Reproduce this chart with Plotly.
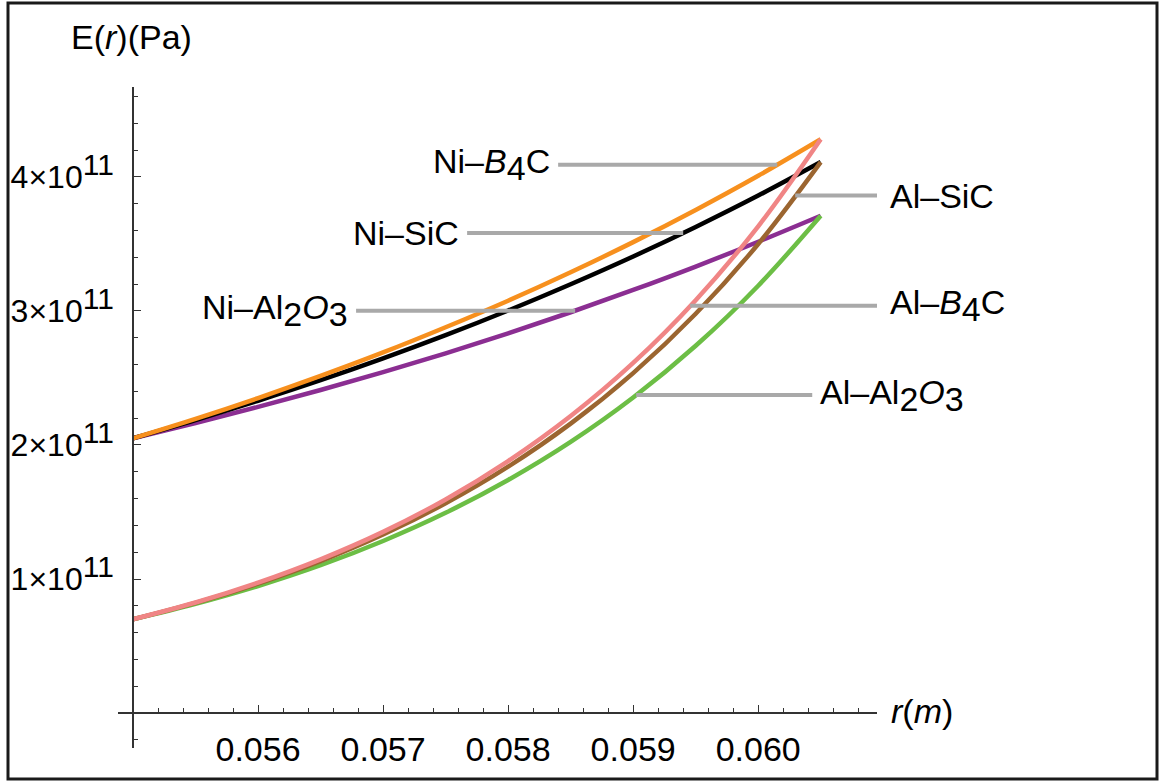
import numpy as np
import plotly.graph_objects as go

# radius r (m)
r = [0.0550, 0.0555, 0.0560, 0.0565, 0.0570, 0.0575,
     0.0580, 0.0585, 0.0590, 0.0595, 0.0600, 0.0605]

# Young's modulus E(r), in units of 1e11 Pa
ni_al2o3 = [2.050, 2.164, 2.284, 2.410, 2.543, 2.684, 2.833, 2.990, 3.156, 3.331, 3.516, 3.710]
ni_sic   = [2.050, 2.186, 2.330, 2.483, 2.646, 2.819, 3.003, 3.199, 3.406, 3.626, 3.860, 4.110]
ni_b4c   = [2.050, 2.195, 2.350, 2.515, 2.690, 2.878, 3.076, 3.288, 3.513, 3.753, 4.008, 4.280]
al_al2o3 = [0.700, 0.815, 0.948, 1.103, 1.284, 1.494, 1.739, 2.023, 2.354, 2.740, 3.188, 3.710]
al_sic   = [0.700, 0.822, 0.966, 1.134, 1.332, 1.565, 1.838, 2.159, 2.536, 2.979, 3.499, 4.110]
al_b4c   = [0.700, 0.825, 0.973, 1.147, 1.352, 1.594, 1.880, 2.216, 2.612, 3.080, 3.631, 4.280]

FS = 34  # main text size


def sub(s):
    return f"<sub><span style='font-size:{FS}px'>{s}</span></sub>"


def sup(s, size):
    return f"<sup><span style='font-size:{size}px'>{s}</span></sup>"


series = [
    ("Ni–Al" + sub("2") + "<i>O</i>" + sub("3"), ni_al2o3, "#8B2E92"),
    ("Ni–SiC", ni_sic, "#000000"),
    ("Ni–<i>B</i>" + sub("4") + "C", ni_b4c, "#F7901E"),
    ("Al–Al" + sub("2") + "<i>O</i>" + sub("3"), al_al2o3, "#6CBE45"),
    ("Al–SiC", al_sic, "#9B6530"),
    ("Al–<i>B</i>" + sub("4") + "C", al_b4c, "#F08585"),
]

# callouts: point on the curve (r), free end of the leader (r), label side
callout_at = [0.058536, 0.059400, 0.060152, 0.059024, 0.060296, 0.059456]
label_end = [0.056784, 0.057672, 0.058400, 0.060432, 0.060992, 0.060992]
label_side = ["left", "left", "left", "right", "right", "right"]

YFS = 32
yticks = [1, 2, 3, 4]
ytick_text = [f"{k}×10" + sup("11", 30) for k in yticks]
xticks = [0.056, 0.057, 0.058, 0.059, 0.060]
xtick_text = ["0.056", "0.057", "0.058", "0.059", "0.060"]

FONT = "Liberation Sans, Arial, Helvetica, sans-serif"
W, H = 1162, 782
L, R, T, B = 118, 285, 87, 34
XR = [0.05488, 0.06095]
YR = [-0.26e11, 4.67e11]
PW, PH = W - L - R, H - T - B


def data_to_paper(x, y):
    return (x - XR[0]) / (XR[1] - XR[0]), (y - YR[0]) / (YR[1] - YR[0])


def px_to_paper(px, py):
    return (px - L) / PW, (H - B - py) / PH


fig = go.Figure()
for name, vals, col in series:
    fig.add_trace(go.Scatter(
        x=r, y=[v * 1e11 for v in vals], mode="lines",
        line=dict(color=col, width=4.5, shape="spline"),
        name=name, showlegend=False, hoverinfo="skip"))

shapes = []
annotations = []
for (name, vals, col), ax, ex, side in zip(series, callout_at, label_end, label_side):
    ay = float(np.interp(ax, r, vals)) * 1e11
    shapes.append(dict(type="line", xref="x", yref="y", x0=ax, y0=ay, x1=ex, y1=ay,
                       line=dict(color="#A9A9A9", width=4)))
    px_, py_ = data_to_paper(ex, ay)
    annotations.append(dict(
        x=px_, y=py_, xref="paper", yref="paper", text=name, showarrow=False,
        xanchor="right" if side == "left" else "left", yanchor="middle",
        xshift=-6 if side == "left" else 6,
        font=dict(family=FONT, size=FS, color="black")))

# axis titles
tx, ty = px_to_paper(131, 37)
annotations.append(dict(x=tx, y=ty, xref="paper", yref="paper", text="E(<i>r</i>)(Pa)",
                        showarrow=False, xanchor="center", yanchor="middle",
                        font=dict(family=FONT, size=FS, color="black")))
tx, ty = px_to_paper(922, 711)
annotations.append(dict(x=tx, y=ty, xref="paper", yref="paper", text="<i>r</i>(<i>m</i>)",
                        showarrow=False, xanchor="center", yanchor="middle",
                        font=dict(family=FONT, size=FS, color="black")))

# outer frame
fx0, fy0 = px_to_paper(8, 779)
fx1, fy1 = px_to_paper(1157, 3)
shapes.append(dict(type="rect", xref="paper", yref="paper", x0=fx0, y0=fy0, x1=fx1, y1=fy1,
                   line=dict(color="#1a1a1a", width=3), fillcolor="rgba(0,0,0,0)"))

# axes cross at (0.055, 0)
xpos = (0 - YR[0]) / (YR[1] - YR[0])
ypos = (0.055 - XR[0]) / (XR[1] - XR[0])

fig.update_layout(
    width=W, height=H,
    margin=dict(l=L, r=R, t=T, b=B, autoexpand=False),
    paper_bgcolor="white", plot_bgcolor="white",
    shapes=shapes, annotations=annotations,
    xaxis=dict(range=XR, anchor="free", position=xpos, showgrid=False, zeroline=False,
               automargin=False,
               showline=True, linecolor="#333333", linewidth=1.5,
               tickmode="array", tickvals=xticks, ticktext=xtick_text,
               ticks="inside", ticklen=7, tickwidth=1, tickcolor="#333333",
               ticklabelstandoff=6,
               tickfont=dict(family=FONT, size=FS, color="black"),
               minor=dict(tick0=0.055, dtick=0.0002, ticks="inside", ticklen=4,
                          tickwidth=1, tickcolor="#333333", showgrid=False)),
    yaxis=dict(range=YR, anchor="free", position=ypos, showgrid=False, zeroline=False,
               automargin=False,
               showline=True, linecolor="#333333", linewidth=1.5,
               tickmode="array", tickvals=[v * 1e11 for v in yticks], ticktext=ytick_text,
               ticks="inside", ticklen=7, tickwidth=1, tickcolor="#333333",
               ticklabelstandoff=12,
               tickfont=dict(family=FONT, size=YFS, color="black"),
               minor=dict(tick0=0, dtick=0.2e11, ticks="inside", ticklen=4,
                          tickwidth=1, tickcolor="#333333", showgrid=False)),
)

fig.write_html("out.html")
